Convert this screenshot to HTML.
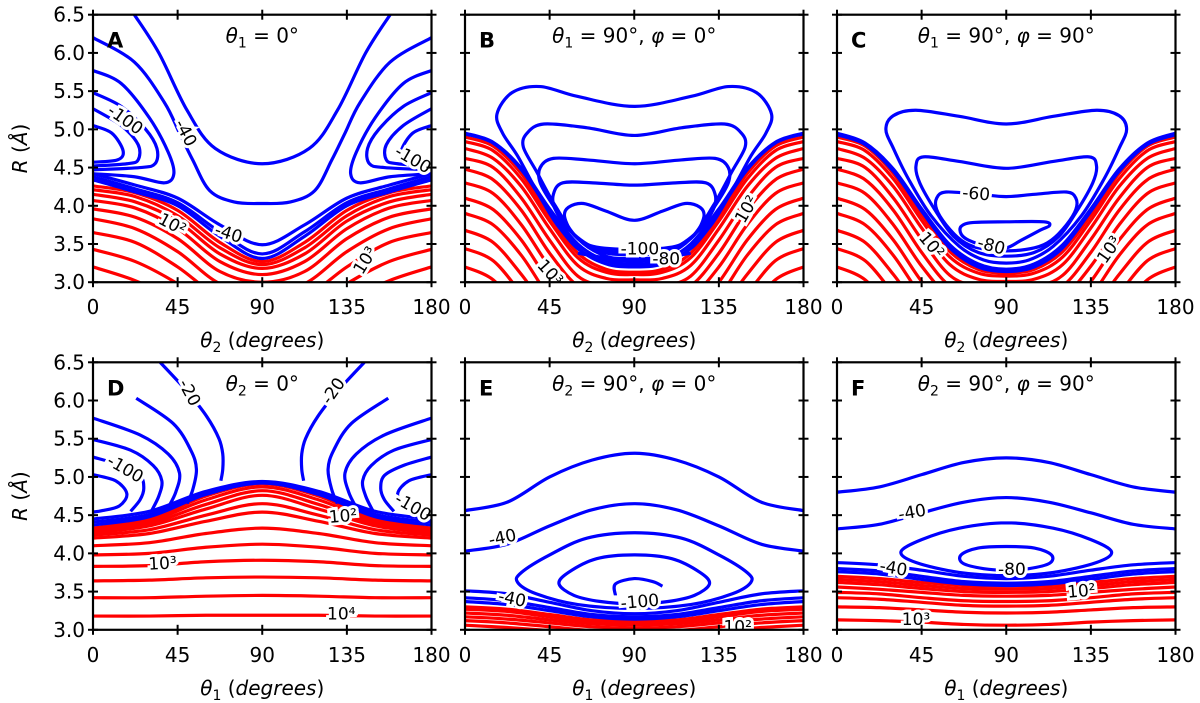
<!DOCTYPE html>
<html><head><meta charset="utf-8">
<style>
html,body{margin:0;padding:0;background:#fff;}
svg{display:block;font-family:"DejaVu Sans","Liberation Sans",sans-serif;}
</style></head>
<body>
<svg id="fig" width="1200" height="703" viewBox="0 0 1200 703" xmlns="http://www.w3.org/2000/svg"></svg>
<script>
// ---------- data (theta in degrees, R in Å) ----------
const xTicks = [0, 45, 90, 135, 180];
const yTicks = [3.0, 3.5, 4.0, 4.5, 5.0, 5.5, 6.0, 6.5];
const yTickLabels = ["3.0","3.5","4.0","4.5","5.0","5.5","6.0","6.5"];

// Panel A (symmetric open curves sampled on half-grid, mirrored)
const gridA = [0, 22.5, 45, 67.5, 90];
const A_red = [
 [4.26,4.17,3.94,3.52,3.27],[4.21,4.12,3.87,3.45,3.23],[4.15,4.05,3.80,3.37,3.18],
 [4.07,3.97,3.70,3.27,3.10],[3.96,3.85,3.57,3.14,3.00],[3.83,3.70,3.40,2.98,2.87],
 [3.65,3.52,3.20,2.80,2.70],[3.43,3.27,2.98,2.60,2.50],[3.20,3.02,2.75,2.40,2.30]];
const A_blueBundle = [[4.42,4.27,4.10,3.75,3.49],[4.38,4.22,4.04,3.66,3.37],[4.34,4.18,4.00,3.60,3.31]];
const A_blueOpen = [
 [[22,6.5],[35,6.0],[50,5.25],[65,4.75],[90,4.55]],
 [[0,6.2],[22,5.88],[38,5.35],[46,4.95],[53,4.6],[62,4.2],[75,4.05],[90,4.03]]];
const A_sideLoops = [
 [[0,5.77],[15,5.6],[30,5.15],[40,4.7],[43,4.42],[38,4.3],[22,4.38],[0,4.42]],
 [[0,5.48],[15,5.3],[28,5.0],[34,4.75],[33,4.55],[25,4.5],[0,4.47]],
 [[0,5.27],[15,5.05],[24,4.8],[24,4.6],[18,4.55],[0,4.52]],
 [[0,5.05],[10,4.95],[16,4.72],[13,4.6],[0,4.57]]];
const A_labels = [["-100",17,5.12,35],["-40",49,4.95,62],["-100",170,4.6,30],["10²",42,3.75,28],["-40",72,3.63,18],["10³",145,3.28,-58]];

// Panel B
const gridB = [0, 15, 30, 45, 60, 75, 90];
const B_red = [
 [4.90,4.78,4.42,3.87,3.38,3.17,3.13],[4.84,4.72,4.35,3.80,3.32,3.13,3.10],[4.75,4.62,4.25,3.70,3.22,3.05,3.03],
 [4.62,4.50,4.10,3.55,3.08,2.95,2.93],[4.48,4.34,3.94,3.38,2.95,2.85,2.83],[4.30,4.16,3.75,3.20,2.80,2.70,2.70],
 [4.10,3.95,3.55,3.00,2.60,2.50,2.50],[3.90,3.75,3.35,2.80,2.40,2.30,2.30],[3.68,3.52,3.10,2.60,2.20,2.10,2.10],
 [3.44,3.28,2.85,2.40,2.00,2.00,2.00],[3.20,3.03,2.60,2.20,1.90,1.90,1.90]];
const B_blueBundle = [[4.94,4.82,4.47,3.93,3.45,3.24,3.20],[4.95,4.83,4.49,3.96,3.50,3.28,3.23]];
const B_loops = [
 [[90,5.3],[60,5.43],[40,5.56],[25,5.48],[17,5.2],[20,4.95],[28,4.65],[38,4.2],[50,3.72],[65,3.36],[90,3.27]],
 [[90,4.92],[65,5.02],[42,5.07],[33,4.95],[31,4.77],[38,4.45],[48,4.0],[60,3.57],[75,3.34],[90,3.31]],
 [[90,4.55],[65,4.6],[47,4.62],[40,4.5],[40,4.3],[47,4.0],[58,3.62],[72,3.4],[90,3.36]],
 [[90,4.27],[68,4.3],[52,4.3],[47,4.15],[48,3.95],[56,3.67],[70,3.44],[90,3.39]],
 [[90,3.81],[75,3.93],[63,4.03],[55,3.98],[53,3.85],[58,3.62],[68,3.47],[90,3.43]]];
const B_extra = [[[60,3.38],[75,3.32],[90,3.31]]];
const B_labels = [["-100",93,3.43,0],["-80",107,3.3,0],["10²",150,3.95,-60],["10³",45,3.12,48]];

// Panel C
const gridC = [0, 15, 30, 45, 60, 75, 90];
const C_red = [
 [4.90,4.78,4.42,3.88,3.40,3.17,3.12],[4.84,4.72,4.35,3.81,3.33,3.12,3.08],[4.75,4.62,4.25,3.71,3.23,3.04,3.01],
 [4.62,4.50,4.10,3.56,3.09,2.94,2.92],[4.48,4.34,3.94,3.39,2.95,2.84,2.82],[4.30,4.16,3.75,3.21,2.80,2.70,2.70],
 [4.10,3.95,3.55,3.01,2.60,2.50,2.50],[3.90,3.75,3.35,2.81,2.40,2.30,2.30],[3.68,3.52,3.10,2.60,2.20,2.10,2.10],
 [3.44,3.28,2.85,2.40,2.00,2.00,2.00],[3.20,3.03,2.60,2.20,1.90,1.90,1.90]];
const C_blueBundle = [[4.93,4.80,4.45,3.93,3.45,3.20,3.14],[4.95,4.82,4.48,3.96,3.49,3.24,3.17]];
const C_loops = [
 [[90,5.07],[65,5.17],[42,5.25],[30,5.18],[26,5.0],[30,4.75],[38,4.35],[50,3.87],[65,3.47],[78,3.29],[90,3.25]],
 [[90,4.49],[65,4.58],[46,4.64],[42,4.52],[44,4.3],[52,3.95],[62,3.6],[75,3.39],[90,3.34]],
 [[90,4.12],[75,4.15],[58,4.18],[53,4.1],[53,3.95],[58,3.75],[66,3.55],[75,3.45],[90,3.41]]];
const C_closed = [[[70,3.55],[66,3.63],[66,3.73],[72,3.78],[90,3.79],[110,3.79],[113,3.74],[108,3.68],[98,3.55],[90,3.45],[80,3.47]]];
const C_labels = [["-60",74,4.15,5],["-80",82,3.47,15],["10²",50,3.48,50],["10³",145,3.42,-55]];

// Panel D
const gridD = [0, 30, 60, 90];
const D_red = [
 [4.33,4.45,4.75,4.91],[4.31,4.42,4.70,4.87],[4.29,4.39,4.64,4.82],[4.27,4.36,4.58,4.76],
 [4.24,4.31,4.50,4.65],[4.20,4.26,4.42,4.54],[4.10,4.14,4.26,4.33],[3.98,4.00,4.08,4.12],
 [3.83,3.84,3.89,3.91],[3.64,3.65,3.68,3.69],[3.42,3.42,3.44,3.45],[3.18,3.18,3.19,3.19]];
const D_blueBundle = [[4.45,4.55,4.81,4.94],[4.41,4.51,4.79,4.93],[4.37,4.48,4.77,4.92]];
const D_side = [
 [[35.7,6.5],[50,6.12],[60.5,5.79],[67,5.5],[69,5.3],[69,5.1],[68,4.95]],
 [[23,6.03],[42.6,5.7],[52,5.35],[55,5.1],[53,4.83],[50,4.65]],
 [[0,5.77],[25,5.55],[40,5.3],[46,5.05],[44,4.8],[40,4.6]],
 [[0,5.49],[20,5.35],[32,5.15],[36.6,4.95],[35,4.75],[31,4.55]],
 [[0,5.26],[15,5.15],[25,5.02],[27,4.85],[25,4.7],[20,4.55]],
 [[0,5.03],[12,4.95],[18,4.78],[14,4.62],[5,4.56],[0,4.54]]];
const D_labels = [["-20",51,6.1,62],["-20",128,6.12,-55],["-100",17,5.1,30],["-100",170,4.6,30],["10²",133,4.48,-5],["10³",37,3.86,-3],["10⁴",132,3.2,0]];

// Panel E
const gridEF = [0, 22.5, 45, 67.5, 90];
const E_blueOpen = [
 [4.56,4.67,5.00,5.22,5.31],[4.03,4.12,4.36,4.57,4.65],[3.51,3.47,3.36,3.25,3.21],
 [3.42,3.38,3.29,3.20,3.17],[3.37,3.33,3.25,3.17,3.14]];
const E_red = [
 [3.30,3.27,3.20,3.13,3.11],[3.27,3.24,3.17,3.11,3.09],[3.22,3.19,3.13,3.08,3.06],
 [3.17,3.14,3.09,3.04,3.02],[3.12,3.09,3.04,2.99,2.98],[3.06,3.03,2.99,2.94,2.93]];
const E_loops = [
 [[90,4.27],[65,4.2],[45,3.98],[30,3.75],[28,3.62],[38,3.47],[60,3.33],[90,3.28]],
 [[90,3.98],[70,3.93],[55,3.75],[50,3.6],[58,3.45],[72,3.37],[90,3.34]]];
const E_extra = [[[80,3.45],[80,3.6],[90,3.67],[100,3.63],[105,3.57]]];
const E_labels = [["-40",20,4.2,-12],["-40",25,3.4,12],["-100",93,3.36,-5],["10²",145,3.03,0]];

// Panel F
const F_blueOpen = [
 [4.80,4.87,5.03,5.19,5.25],[4.32,4.38,4.53,4.67,4.73],[3.88,3.85,3.78,3.70,3.67],
 [3.80,3.77,3.70,3.63,3.61],[3.76,3.73,3.66,3.60,3.58]];
const F_red = [
 [3.70,3.67,3.62,3.58,3.57],[3.66,3.63,3.58,3.54,3.53],[3.62,3.59,3.54,3.50,3.49],
 [3.56,3.53,3.49,3.45,3.44],[3.49,3.47,3.42,3.38,3.37],[3.42,3.40,3.36,3.32,3.31],
 [3.30,3.29,3.26,3.23,3.22],[3.13,3.12,3.10,3.07,3.06]];
const F_loops = [
 [[90,4.4],[65,4.33],[45,4.18],[34,4.02],[42,3.88],[65,3.75],[90,3.71]],
 [[90,4.09],[75,4.07],[66,3.98],[67,3.87],[78,3.8],[90,3.78]]];
const F_labels = [["-40",40,4.53,-10],["-40",30,3.8,10],["-80",93,3.78,0],["10²",130,3.5,-5],["10³",42,3.13,0]];

// ---------- layout ----------
const NS = "http://www.w3.org/2000/svg";
const svg = document.getElementById('fig');
const PW = 338.5, PH = 267.5;
const panels = [
 {id:'A', x:93,  y:14.7,  title:['θ','₁',' = 0°'], xl:'₂', yLab:true},
 {id:'B', x:465, y:14.7,  title:['θ','₁',' = 90°, ','φ',' = 0°'], xl:'₂'},
 {id:'C', x:837, y:14.7,  title:['θ','₁',' = 90°, ','φ',' = 90°'], xl:'₂'},
 {id:'D', x:93,  y:362.3, title:['θ','₂',' = 0°'], xl:'₁', yLab:true},
 {id:'E', x:465, y:362.3, title:['θ','₂',' = 90°, ','φ',' = 0°'], xl:'₁'},
 {id:'F', x:837, y:362.3, title:['θ','₂',' = 90°, ','φ',' = 90°'], xl:'₁'}];

function mk(tag, attrs, parent){
  const e = document.createElementNS(NS, tag);
  for (const k in attrs) e.setAttribute(k, attrs[k]);
  (parent||svg).appendChild(e);
  return e;
}
function crPath(pts, closed){
  const n = pts.length; if (n<2) return '';
  let d = 'M'+pts[0][0].toFixed(2)+','+pts[0][1].toFixed(2);
  const get = i => closed ? pts[(i+n)%n] : pts[Math.max(0,Math.min(n-1,i))];
  const segs = closed ? n : n-1;
  for (let i=0;i<segs;i++){
    const p0=get(i-1),p1=get(i),p2=get(i+1),p3=get(i+2);
    const c1=[p1[0]+(p2[0]-p0[0])/6, p1[1]+(p2[1]-p0[1])/6];
    const c2=[p2[0]-(p3[0]-p1[0])/6, p2[1]-(p3[1]-p1[1])/6];
    d+='C'+c1[0].toFixed(2)+','+c1[1].toFixed(2)+' '+c2[0].toFixed(2)+','+c2[1].toFixed(2)+' '+p2[0].toFixed(2)+','+p2[1].toFixed(2);
  }
  return closed ? d+'Z' : d;
}

panels.forEach(p => {
  const sx = t => p.x + t/180*PW;
  const sy = r => p.y + (6.5 - r)/3.5*PH;
  const g = mk('g', {});
  
  
  const clipId = 'clip'+p.id;
  const cp = mk('clipPath', {id:clipId}, g);
  mk('rect', {x:p.x, y:p.y, width:PW, height:PH}, cp);
  const plot = mk('g', {'clip-path':'url(#'+clipId+')'}, g);

  function line(pts, color, closed, name){
    const el = mk('path', {d:crPath(pts.map(q=>[sx(q[0]),sy(q[1])]), closed), fill:'none', stroke:color, 'stroke-width':3.2, 'stroke-linejoin':'round'}, plot);
    
    
  }
  function symGrid(grid, vals, color, name){
    const pts = grid.map((t,i)=>[t, vals[i]]);
    for (let i=grid.length-2;i>=0;i--) pts.push([180-grid[i], vals[i]]);
    line(pts, color, false, name);
  }
  function symPts(half, color, name){
    const pts = half.slice();
    for (let i=half.length-2;i>=0;i--) pts.push([180-half[i][0], half[i][1]]);
    line(pts, color, false, name);
  }
  function loopHalf(half, color, name){
    const pts = half.slice();
    for (let i=half.length-2;i>0;i--) pts.push([180-half[i][0], half[i][1]]);
    line(pts, color, true, name);
  }
  function pair(pts, color, name){
    line(pts, color, false, name);
    line(pts.map(q=>[180-q[0], q[1]]), color, false, name+'-mirror');
  }
  const R='#ff0000', B='#0000ff';
  let labels=[];
  if (p.id==='A'){
    A_red.forEach((v,i)=>symGrid(gridA, v, R, 'red-contour-'+i));
    A_blueBundle.forEach((v,i)=>symGrid(gridA, v, B, 'blue-bundle-'+i));
    A_blueOpen.forEach((v,i)=>symPts(v, B, 'blue-contour-'+i));
    A_sideLoops.forEach((v,i)=>pair(v, B, 'blue-side-contour-'+i));
    labels=A_labels;
  } else if (p.id==='B'){
    B_red.forEach((v,i)=>symGrid(gridB, v, R, 'red-contour-'+i));
    B_blueBundle.forEach((v,i)=>symGrid(gridB, v, B, 'blue-bundle-'+i));
    B_loops.forEach((v,i)=>loopHalf(v, B, 'blue-loop-'+i));
    B_extra.forEach((v,i)=>symPts(v, B, 'blue-contour-'+i));
    labels=B_labels;
  } else if (p.id==='C'){
    C_red.forEach((v,i)=>symGrid(gridC, v, R, 'red-contour-'+i));
    C_blueBundle.forEach((v,i)=>symGrid(gridC, v, B, 'blue-bundle-'+i));
    C_loops.forEach((v,i)=>loopHalf(v, B, 'blue-loop-'+i));
    C_closed.forEach((v,i)=>line(v, B, true, 'blue-inner-loop-'+i));
    labels=C_labels;
  } else if (p.id==='D'){
    D_red.forEach((v,i)=>symGrid(gridD, v, R, 'red-contour-'+i));
    D_blueBundle.forEach((v,i)=>symGrid(gridD, v, B, 'blue-bundle-'+i));
    D_side.forEach((v,i)=>pair(v, B, 'blue-side-contour-'+i));
    labels=D_labels;
  } else if (p.id==='E'){
    E_red.forEach((v,i)=>symGrid(gridEF, v, R, 'red-contour-'+i));
    E_blueOpen.forEach((v,i)=>symGrid(gridEF, v, B, 'blue-contour-'+i));
    E_loops.forEach((v,i)=>loopHalf(v, B, 'blue-loop-'+i));
    E_extra.forEach((v,i)=>line(v, B, false, 'blue-spiral-'+i));
    labels=E_labels;
  } else {
    F_red.forEach((v,i)=>symGrid(gridEF, v, R, 'red-contour-'+i));
    F_blueOpen.forEach((v,i)=>symGrid(gridEF, v, B, 'blue-contour-'+i));
    F_loops.forEach((v,i)=>loopHalf(v, B, 'blue-loop-'+i));
    labels=F_labels;
  }
  labels.forEach(L=>{
    const tx = sx(L[1]), ty = sy(L[2]);
    const t = mk('text', {x:tx, y:ty, 'font-size':17, 'text-anchor':'middle', 'dominant-baseline':'central',
      transform:'rotate('+L[3]+' '+tx+' '+ty+')', fill:'#000', stroke:'#fff', 'stroke-width':6, 'paint-order':'stroke'}, plot);
    t.textContent = L[0];
    
    
  });

  // frame
  const fr = mk('rect', {x:p.x, y:p.y, width:PW, height:PH, fill:'none', stroke:'#000', 'stroke-width':2.2}, g);
  
  
  // ticks
  xTicks.forEach(t=>{
    const X = sx(t);
    mk('line', {x1:X, x2:X, y1:p.y-5, y2:p.y+5, stroke:'#000','stroke-width':2}, g);
    mk('line', {x1:X, x2:X, y1:p.y+PH-5, y2:p.y+PH+5, stroke:'#000','stroke-width':2}, g);
    const tl = mk('text', {x:X, y:p.y+PH+25, 'font-size':20, 'text-anchor':'middle', 'dominant-baseline':'central', fill:'#000'}, g);
    tl.textContent = String(t);
    
    
  });
  yTicks.forEach((r,i)=>{
    const Y = sy(r);
    mk('line', {x1:p.x-5, x2:p.x+5, y1:Y, y2:Y, stroke:'#000','stroke-width':2}, g);
    mk('line', {x1:p.x+PW-5, x2:p.x+PW+5, y1:Y, y2:Y, stroke:'#000','stroke-width':2}, g);
    if (p.yLab){
      const tl = mk('text', {x:p.x-8, y:Y, 'font-size':20, 'text-anchor':'end', 'dominant-baseline':'central', fill:'#000'}, g);
      tl.textContent = yTickLabels[i];
      
      
    }
  });
  // x-axis title
  const xt = mk('text', {x:p.x+PW/2, y:p.y+PH+65, 'font-size':20, 'text-anchor':'middle', fill:'#000'}, g);
  xt.innerHTML = '<tspan font-style="italic">θ</tspan><tspan font-size="14" dy="5">'+(p.xl==='₂'?'2':'1')+'</tspan><tspan dy="-5"> (</tspan><tspan font-style="italic">degrees</tspan><tspan>)</tspan>';
  
  
  if (p.yLab){
    const cx = 20, cy = p.y+PH/2;
    const yt = mk('text', {x:cx, y:cy, 'font-size':20, 'text-anchor':'middle', 'dominant-baseline':'central', transform:'rotate(-90 '+cx+' '+cy+')', fill:'#000'}, g);
    yt.innerHTML = '<tspan font-style="italic">R</tspan> (<tspan font-style="italic">Å</tspan>)';
    
    
  }
  // panel letter
  const lt = mk('text', {x:p.x+14, y:p.y+33, 'font-size':21, 'font-weight':'bold', fill:'#000'}, g);
  lt.textContent = p.id;
  
  
  // panel title
  const tt = mk('text', {x:p.x+PW/2, y:p.y+28, 'font-size':20, 'text-anchor':'middle', fill:'#000'}, g);
  const sub = p.title[1]==='₁'?'1':'2';
  let html = '<tspan font-style="italic">θ</tspan><tspan font-size="14" dy="5">'+sub+'</tspan><tspan dy="-5">'+p.title[2]+'</tspan>';
  if (p.title.length>3) html += '<tspan font-style="italic">φ</tspan><tspan>'+p.title[4]+'</tspan>';
  tt.innerHTML = html;
  
  
});
</script>
</body></html>
